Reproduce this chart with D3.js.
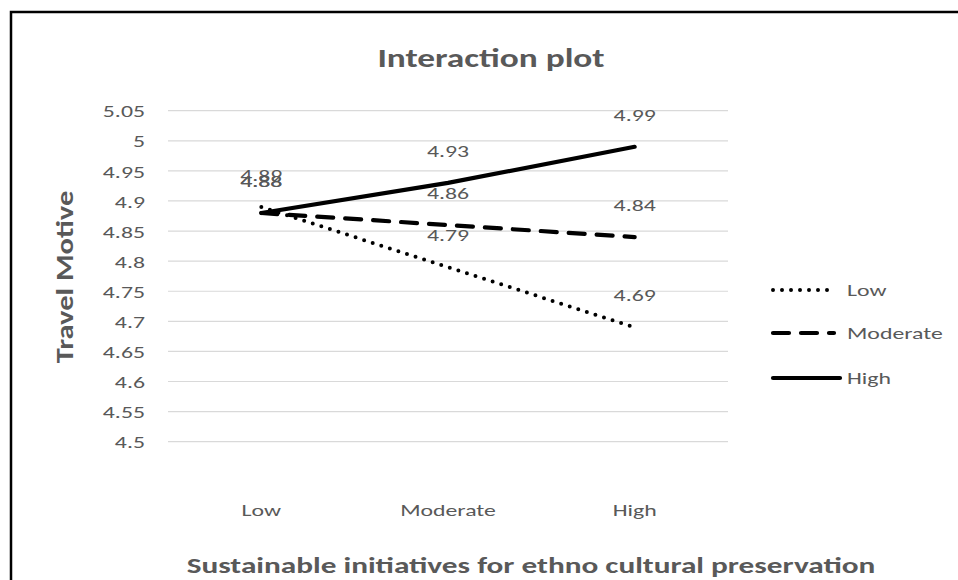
<!DOCTYPE html>
<html><head><meta charset="utf-8">
<script src="https://cdn.jsdelivr.net/npm/d3@7"></script>
<style>body{margin:0;background:#fff}svg{display:block}text{font-family:Carlito,Lato,"Open Sans",sans-serif;fill:#595959}</style>
</head><body>
<script>
const categories = ["Low", "Moderate", "High"];
const seriesNames = ["Low", "Moderate", "High"];
const lowValues = [4.89, 4.79, 4.69];
const moderateValues = [4.88, 4.86, 4.84];
const highValues = [4.88, 4.93, 4.99];
const yTicks = [4.5, 4.55, 4.6, 4.65, 4.7, 4.75, 4.8, 4.85, 4.9, 4.95, 5, 5.05];

const W = 958, H = 580;
const SX = 1.4;      // horizontal stretch of small text
const TSX = 1.36;    // horizontal stretch of titles
const svg = d3.select("body").append("svg").attr("width", W).attr("height", H);
svg.append("rect").attr("x", 0).attr("y", 0).attr("width", W).attr("height", H).attr("fill", "#fff");
svg.append("path").attr("d", `M11,${H+5} L11,12 L${W+5},12`).attr("fill", "none").attr("stroke", "#000").attr("stroke-width", 2.5);

const x = d3.scaleBand().domain(categories).range([168, 728]);
const y = d3.scaleLinear().domain([4.5, 5.05]).range([441.7, 110.7]);
const cx = c => x(c) + x.bandwidth() / 2;

// gridlines
svg.append("g").selectAll("line").data(yTicks).join("line")
  .attr("x1", 168).attr("x2", 728).attr("y1", d => y(d)).attr("y2", d => y(d))
  .attr("stroke", "#d9d9d9").attr("stroke-width", 1.2);

// y axis labels
const yAxis = d3.axisLeft(y).tickValues(yTicks).tickSize(0).tickPadding(0).tickFormat(d => String(+d.toFixed(2)));
const gy = svg.append("g").attr("transform", "translate(145,0)").call(yAxis);
gy.select(".domain").remove();
gy.selectAll("text").attr("font-size", 17).style("fill", "#595959").attr("dy", "0.36em")
  .style("font-family", "Carlito,Lato,sans-serif").attr("transform", `scale(${SX},1)`);

// x axis labels
const xAxis = d3.axisBottom(x).tickSize(0).tickPadding(0);
const gx = svg.append("g").attr("transform", "translate(0,510)").call(xAxis);
gx.select(".domain").remove();
gx.selectAll("text").attr("font-size", 17).style("fill", "#595959").attr("dy", "0.36em").attr("y", 0)
  .style("font-family", "Carlito,Lato,sans-serif").attr("transform", `scale(${SX},1)`);

const series = [
  {name: seriesNames[0], values: lowValues, dash: "0 9", width: 4},
  {name: seriesNames[1], values: moderateValues, dash: "16 12", width: 4.2},
  {name: seriesNames[2], values: highValues, dash: null, width: 4.2}
];
const line = d3.line().x((d, i) => cx(categories[i])).y(d => y(d));

[series[2], series[1], series[0]].forEach(s => {
  svg.append("path").datum(s.values).attr("d", line).attr("fill", "none")
    .attr("stroke", "#000").attr("stroke-width", s.width)
    .attr("stroke-linecap", "round")
    .attr("stroke-dasharray", s.dash);
});

// data labels
series.forEach(s => {
  svg.append("g").selectAll("text").data(s.values).join("text")
    .attr("transform", (d, i) => `translate(${cx(categories[i])},${y(d) - 32}) scale(${SX},1)`)
    .attr("dy", "0.36em")
    .attr("text-anchor", "middle").attr("font-size", 17)
    .text(d => d.toFixed(2));
});

// legend
const legY = [290, 333, 378];
series.forEach((s, i) => {
  svg.append("line").attr("x1", 773).attr("x2", s.dash ? 834 : 840).attr("y1", legY[i]).attr("y2", legY[i])
    .attr("stroke", "#000").attr("stroke-width", s.width).attr("stroke-linecap", "round")
    .attr("stroke-dasharray", s.dash);
  svg.append("text").attr("transform", `translate(847,${legY[i]}) scale(${SX},1)`).attr("dy", "0.36em")
    .attr("font-size", 17).text(s.name);
});

// titles
svg.append("text").attr("transform", `translate(491,58) scale(${TSX},1)`).attr("dy", "0.35em").attr("text-anchor", "middle")
  .attr("font-size", 26).attr("font-weight", "bold").text("Interaction plot");
svg.append("text").attr("transform", "translate(64,277) rotate(-90) scale(1.22,1)").attr("dy", "0.35em").attr("text-anchor", "middle")
  .attr("font-size", 25).attr("font-weight", "bold").text("Travel Motive");
svg.append("text").attr("transform", `translate(531,565) scale(${TSX},1)`).attr("dy", "0.35em").attr("text-anchor", "middle")
  .attr("font-size", 23).attr("font-weight", "bold").text("Sustainable initiatives for ethno cultural preservation");
</script>
</body></html>
